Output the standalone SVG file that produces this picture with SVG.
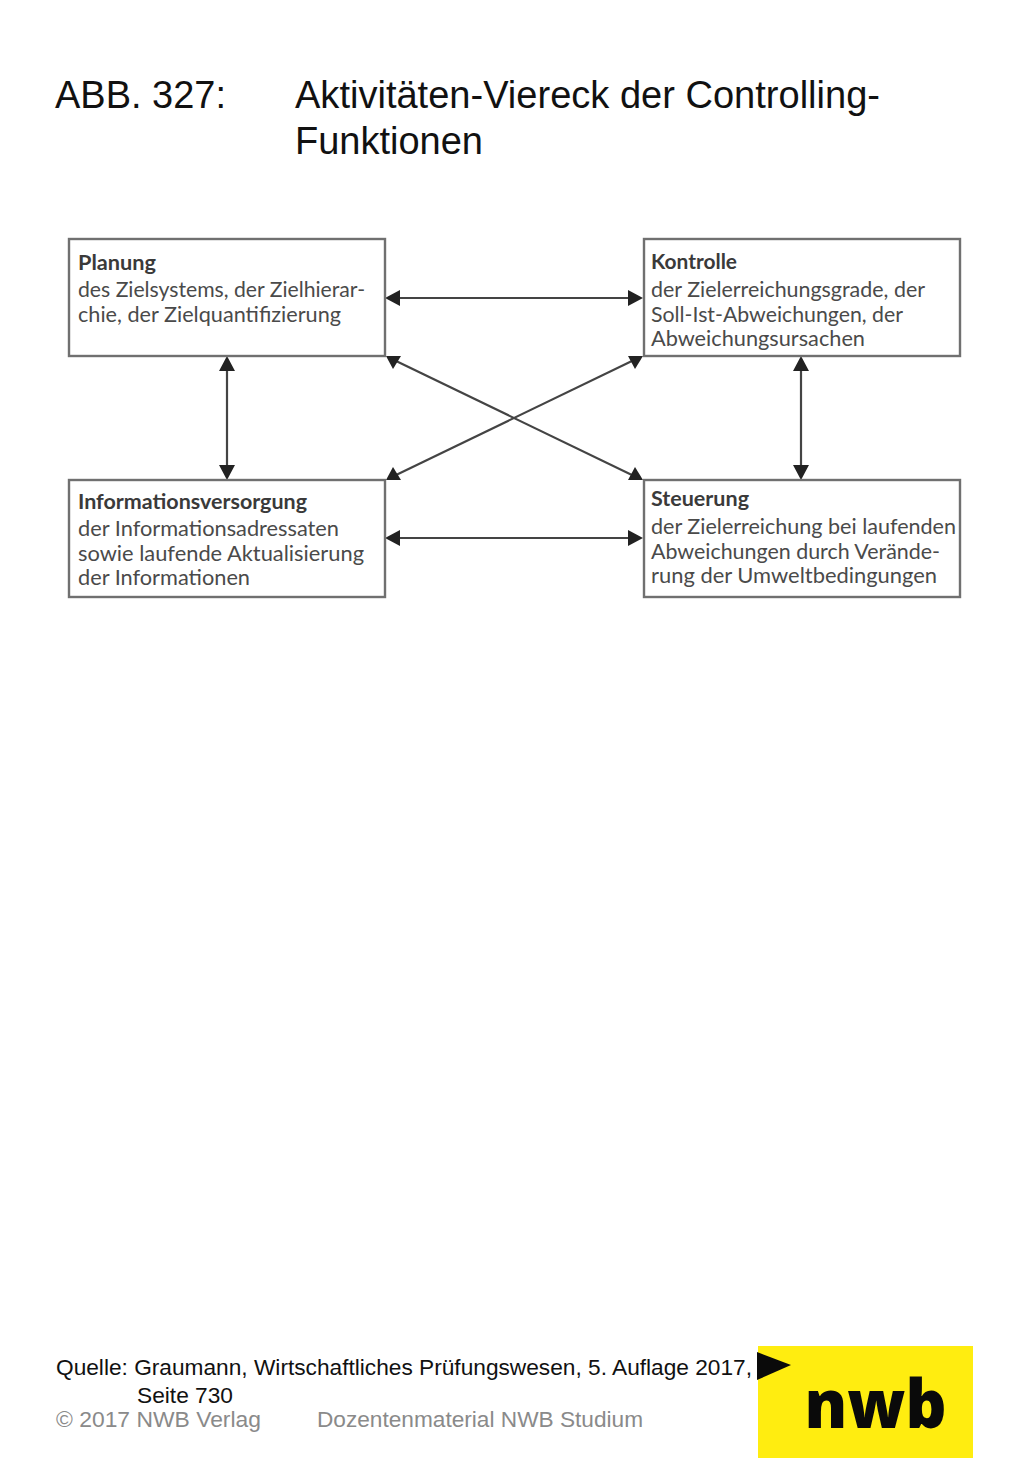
<svg xmlns="http://www.w3.org/2000/svg" width="1024" height="1479" viewBox="0 0 1024 1479">
<defs><style>
.t{font-family:"Liberation Sans",Arial,sans-serif;fill:#111}
.h{font-size:38px}
.q{font-size:22px}
.g{font-size:22px;fill:#8a8a8a}
.box{fill:#fff;stroke:#707070;stroke-width:2.4}
.b{font-family:"Lato","Open Sans",sans-serif;font-size:21px;font-weight:700;fill:#3a3a3a}
.n{font-family:"Lato","Open Sans",sans-serif;font-size:21px;fill:#4a4a4a}
.c{stroke:#444;stroke-width:2.2;fill:none}
.hd{fill:#222}
</style></defs>
<rect width="1024" height="1479" fill="#fff"/>
<g id="title"><text class="t h" x="55" y="108" textLength="171" lengthAdjust="spacingAndGlyphs">ABB. 327:</text>
<text class="t h" x="295" y="108" textLength="585" lengthAdjust="spacingAndGlyphs">Aktivitäten-Viereck der Controlling-</text>
<text class="t h" x="295" y="154" textLength="188" lengthAdjust="spacingAndGlyphs">Funktionen</text></g>
<g id="connectors">
<line class="c" x1="395" y1="298" x2="633" y2="298"/>
<line class="c" x1="395" y1="538" x2="633" y2="538"/>
<line class="c" x1="227" y1="368" x2="227" y2="468"/>
<line class="c" x1="801" y1="368" x2="801" y2="468"/>
<line class="c" x1="394" y1="360" x2="634" y2="476"/>
<line class="c" x1="394" y1="476" x2="634" y2="360"/>
<polygon class="hd" points="385,298 400,290 400,306"/>
<polygon class="hd" points="643,298 628,290 628,306"/>
<polygon class="hd" points="385,538 400,530 400,546"/>
<polygon class="hd" points="643,538 628,530 628,546"/>
<polygon class="hd" points="227,356 219,371 235,371"/>
<polygon class="hd" points="227,480 219,465 235,465"/>
<polygon class="hd" points="801,356 793,371 809,371"/>
<polygon class="hd" points="801,480 793,465 809,465"/>
<polygon class="hd" points="393,369 386,356 401,356"/>
<polygon class="hd" points="635,369 628,356 643,356"/>
<polygon class="hd" points="393,467 386,480 401,480"/>
<polygon class="hd" points="635,467 628,480 643,480"/>
</g>
<g id="planung"><rect class="box" x="69" y="239" width="316" height="117"/>
<text class="b" x="78" y="270" textLength="78" lengthAdjust="spacingAndGlyphs">Planung</text>
<text class="n" x="78" y="297" textLength="287" lengthAdjust="spacingAndGlyphs">des Zielsystems, der Zielhierar-</text>
<text class="n" x="78" y="322" textLength="263" lengthAdjust="spacingAndGlyphs">chie, der Zielquantifizierung</text></g>
<g id="kontrolle"><rect class="box" x="644" y="239" width="316" height="117"/>
<text class="b" x="651" y="269" textLength="86" lengthAdjust="spacingAndGlyphs">Kontrolle</text>
<text class="n" x="651" y="297" textLength="274" lengthAdjust="spacingAndGlyphs">der Zielerreichungsgrade, der</text>
<text class="n" x="651" y="322" textLength="252" lengthAdjust="spacingAndGlyphs">Soll-Ist-Abweichungen, der</text>
<text class="n" x="651" y="346" textLength="214" lengthAdjust="spacingAndGlyphs">Abweichungsursachen</text></g>
<g id="informationsversorgung"><rect class="box" x="69" y="480" width="316" height="117"/>
<text class="b" x="78" y="509" textLength="229" lengthAdjust="spacingAndGlyphs">Informationsversorgung</text>
<text class="n" x="78" y="536" textLength="261" lengthAdjust="spacingAndGlyphs">der Informationsadressaten</text>
<text class="n" x="78" y="561" textLength="286" lengthAdjust="spacingAndGlyphs">sowie laufende Aktualisierung</text>
<text class="n" x="78" y="585" textLength="172" lengthAdjust="spacingAndGlyphs">der Informationen</text></g>
<g id="steuerung"><rect class="box" x="644" y="480" width="316" height="117"/>
<text class="b" x="651" y="506" textLength="98" lengthAdjust="spacingAndGlyphs">Steuerung</text>
<text class="n" x="651" y="534" textLength="305" lengthAdjust="spacingAndGlyphs">der Zielerreichung bei laufenden</text>
<text class="n" x="651" y="559" textLength="289" lengthAdjust="spacingAndGlyphs">Abweichungen durch Verände-</text>
<text class="n" x="651" y="583" textLength="286" lengthAdjust="spacingAndGlyphs">rung der Umweltbedingungen</text></g>
<g id="footer"><text class="t q" x="56" y="1375" textLength="696" lengthAdjust="spacingAndGlyphs">Quelle: Graumann, Wirtschaftliches Prüfungswesen, 5. Auflage 2017,</text>
<text class="t q" x="137" y="1403" textLength="96" lengthAdjust="spacingAndGlyphs">Seite 730</text>
<text class="t g" x="56" y="1427" textLength="205" lengthAdjust="spacingAndGlyphs">© 2017 NWB Verlag</text>
<text class="t g" x="317" y="1427" textLength="326" lengthAdjust="spacingAndGlyphs">Dozentenmaterial NWB Studium</text></g>
<g id="logo"><rect x="758" y="1346" width="215" height="112" fill="#ffed10"/>
<polygon points="757,1352 791,1365 757,1380" fill="#0a0a0a"/>
<text x="875.500" y="1428" text-anchor="middle" font-family="'Open Sans','DejaVu Sans',sans-serif" font-weight="800" font-size="68" textLength="142" lengthAdjust="spacingAndGlyphs" fill="#0a0a0a">nwb</text></g>
</svg>
